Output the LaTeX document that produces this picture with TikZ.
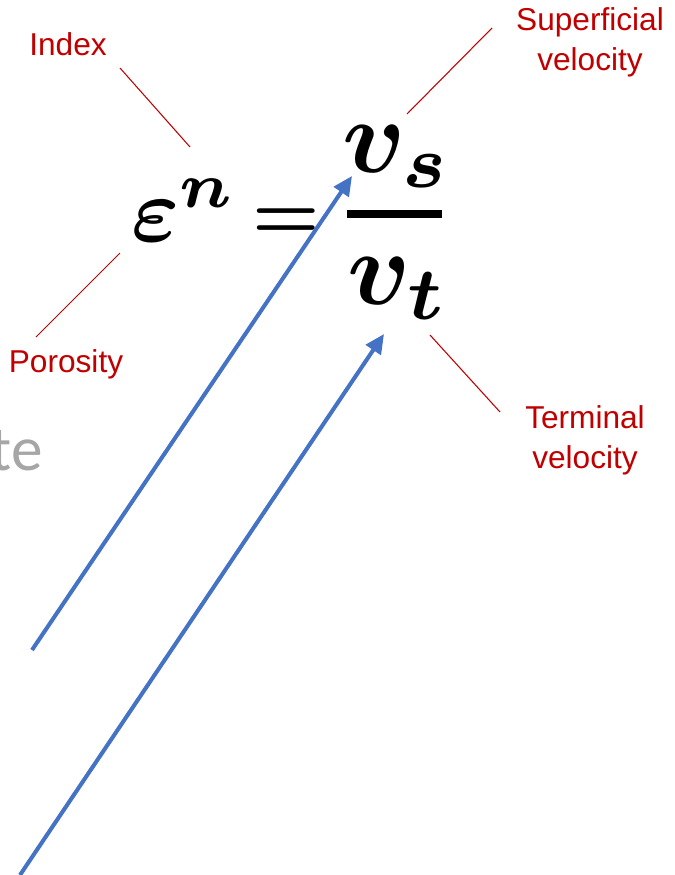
\documentclass[tikz,border=0pt]{standalone}
\usepackage{amsmath,bm}
\usepackage{fontspec}
\setmainfont{Liberation Sans}
\newfontfamily\fadefont{Carlito}
\usetikzlibrary{arrows.meta}
\definecolor{labelred}{RGB}{192,0,0}
\definecolor{arrowblue}{RGB}{68,114,196}
\definecolor{fadegray}{RGB}{166,166,166}
\newcommand{\bigmath}[2]{\scalebox{#1}{$\bm{#2}$}}
\tikzset{
  callout/.style={text=labelred, align=center, inner sep=0pt,
    font=\fontsize{18}{22.6}\selectfont},
  leader/.style={draw=labelred, line width=0.6pt},
  mathbig/.style={inner sep=0pt},
  pointer/.style={draw=arrowblue, line width=2.3pt,
    -{Triangle[length=11pt, width=10pt]}}
}
\begin{document}
\begin{tikzpicture}[x=0.02cm, y=-0.02cm]
  \useasboundingbox (0,0) rectangle (675,875);
  % Leftover slide text
  \node[anchor=base east, inner sep=0pt, text=fadegray,
    font=\fontsize{36}{40}\fadefont] (te) at (43,470) {te};
  % Equation
  \node[mathbig, anchor=base west] (epsn) at (131,241) {\bigmath{5.2}{\varepsilon^{n}}};
  \node[mathbig, anchor=base] (equals) at (286,238) {\bigmath{4.3}{=}};
  \node[mathbig, anchor=base] (vs) at (397,172) {\bigmath{6}{v_{s}}};
  \node[mathbig, anchor=base] (vt) at (398,304) {\bigmath{6}{v_{t}}};
  \coordinate (barL) at (347,214);
  \coordinate (barR) at (442,214);
  \draw[line width=4.5pt] (barL) -- (barR);
  % Callouts
  \node[callout] (index) at (68,44) {Index};
  \node[callout] (superficial) at (590,42) {Superficial\\velocity};
  \node[callout] (porosity) at (66,364) {Porosity};
  \node[callout] (terminal) at (585,440) {Terminal\\velocity};
  % Leader lines
  \coordinate (idxA) at (120,68);  \coordinate (idxB) at (190,147);
  \coordinate (supA) at (492,28);  \coordinate (supB) at (407,114);
  \coordinate (porA) at (120,253); \coordinate (porB) at (36,337);
  \coordinate (terA) at (430,335); \coordinate (terB) at (500,412);
  \draw[leader] (idxA) -- (idxB);
  \draw[leader] (supA) -- (supB);
  \draw[leader] (porA) -- (porB);
  \draw[leader] (terA) -- (terB);
  % Blue arrows
  \coordinate (upperTail) at (32,650);  \coordinate (upperTip) at (352,176);
  \coordinate (lowerTail) at (20,875);  \coordinate (lowerTip) at (384,334);
  \draw[pointer] (upperTail) -- (upperTip);
  \draw[pointer] (lowerTail) -- (lowerTip);
\end{tikzpicture}
\end{document}
